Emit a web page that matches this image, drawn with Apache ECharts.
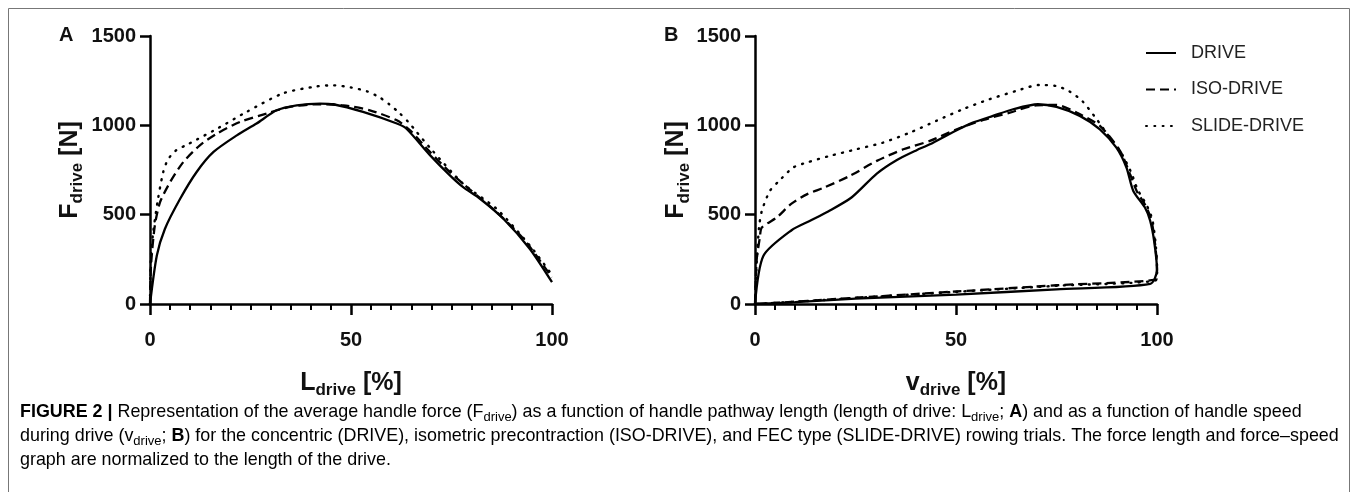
<!DOCTYPE html>
<html>
<head>
<meta charset="utf-8">
<script src="https://cdn.jsdelivr.net/npm/echarts@6/dist/echarts.min.js"></script>
<style>
html,body{margin:0;padding:0;background:#fff;}
#chart{width:1357px;height:492px;}
</style>
</head>
<body>
<div id="chart"></div>
<script>
// ---------- data ----------
const seriesNames = ['DRIVE', 'ISO-DRIVE', 'SLIDE-DRIVE'];
const yTicks = [0, 500, 1000, 1500];
const xTicks = [0, 50, 100];

// Panel A: force vs length of drive [%]
const A_drive_x = [0, 1.7, 3.7, 7.5, 11.6, 15.8, 21.6, 26.5, 31.5, 36.5, 42.3, 45.6, 53, 61.4, 63.8, 69.7, 74.6, 77.9, 82.1, 87.9, 94.5, 100];
const A_drive_y = [0, 271, 420, 589, 739, 851, 944, 1010, 1084, 1112, 1122, 1118, 1075, 1010, 981, 832, 720, 654, 589, 477, 308, 122];
const A_iso_x = [0, 0.25, 1.2, 2.5, 5, 8.3, 12.4, 16.6, 22.4, 29, 34.8, 41.5, 48.1, 54.7, 61.4, 64.7, 69.7, 74.6, 79.6, 86.2, 92.9, 99.5, 100];
const A_iso_y = [0, 215, 439, 570, 682, 795, 888, 953, 1019, 1066, 1103, 1118, 1112, 1084, 1028, 972, 850, 738, 640, 515, 365, 165, 150];
const A_slide_x = [0, 0.2, 0.8, 2, 3.3, 4.5, 6.6, 9.1, 11.6, 17, 24, 33.2, 41.5, 45.6, 50, 54, 57, 59.5, 62, 64.2, 66, 70, 77.9, 86.2, 94.5, 99.5, 100];
const A_slide_y = [0, 252, 403, 589, 739, 810, 862, 890, 920, 985, 1075, 1180, 1218, 1224, 1212, 1190, 1158, 1118, 1070, 1020, 972, 865, 673, 533, 327, 179, 165];

// Panel B: force vs handle speed [%] (closed loop: drive up, return along the bottom)
const B_drive_x = [0, 2.1, 9.1, 13.7, 18.2, 24, 30.3, 35.2, 40.2, 43.5, 49.3, 54.2, 59.2, 64.2, 70.4, 75, 80.8, 85.8, 89.9, 92.4, 94.1, 97, 98.3, 99.3, 100, 98.3, 75, 50, 25, 10, 0];
const B_drive_y = [0, 270, 413, 466, 518, 596, 730, 805, 861, 894, 963, 1015, 1053, 1090, 1118, 1103, 1053, 978, 875, 764, 633, 540, 466, 350, 190, 112, 82, 53, 30, 10, 0];
const B_iso_x = [0, 0.4, 1.2, 1.7, 5.4, 9, 13, 17, 23.6, 30.3, 36.9, 43.5, 50.2, 56.8, 63.4, 70, 75, 80, 85.8, 90.8, 93.3, 95, 97.3, 98.6, 99.5, 100, 100, 75, 50, 25, 10, 0];
const B_iso_y = [0, 242, 372, 428, 484, 560, 615, 650, 717, 801, 866, 913, 978, 1030, 1071, 1112, 1114, 1071, 997, 857, 727, 630, 545, 470, 340, 200, 143, 105, 70, 35, 13, 0];
const B_slide_x = [0, 0.4, 1, 1.7, 3.7, 6, 9.5, 12.8, 18.6, 25.2, 31.8, 38.5, 45.1, 51.7, 58.3, 64.9, 70.7, 74.9, 78.1, 81.4, 84.7, 88, 91, 93.5, 95.2, 97.5, 98.8, 99.6, 100, 100, 75, 50, 25, 10, 0];
const B_slide_y = [0, 224, 428, 521, 633, 689, 764, 791, 829, 866, 903, 959, 1025, 1090, 1146, 1192, 1226, 1220, 1192, 1136, 1043, 940, 850, 740, 640, 550, 475, 350, 210, 138, 102, 68, 34, 12, 0];

// ---------- helpers ----------
const FONT = '"Liberation Sans", Arial, Helvetica, sans-serif';
function pairs(xs, ys) { return xs.map((x, i) => [x, ys[i]]); }
const lineStyles = [
  { color: '#000', width: 2.3, type: 'solid' },
  { color: '#000', width: 2.3, type: [9, 5] },
  { color: '#000', width: 2.4, type: [1, 7.3], cap: 'round' }
];
const nameRich = {
  m: { fontSize: 25, fontWeight: 'bold', color: '#111', fontFamily: FONT, lineHeight: 32 },
  s: { fontSize: 17, fontWeight: 'bold', color: '#111', fontFamily: FONT, lineHeight: 17, verticalAlign: 'bottom' }
};

function xAxisCfg(gridIndex, sym) {
  return {
    gridIndex, type: 'value', min: 0, max: 100, interval: 50,
    name: '{m|' + sym + '}{s|drive}{m| [%]}',
    nameLocation: 'middle', nameGap: 63,
    nameTextStyle: { rich: nameRich },
    axisLine: { show: true, onZero: false, lineStyle: { color: '#000', width: 2.5 } },
    axisTick: { show: true, length: 11, lineStyle: { color: '#000', width: 2.5 } },
    minorTick: { show: true, splitNumber: 10, length: 6, lineStyle: { color: '#000', width: 2 } },
    splitLine: { show: false }, minorSplitLine: { show: false },
    axisLabel: { fontSize: 20, fontWeight: 'bold', color: '#111', margin: 26, fontFamily: FONT,
      formatter: v => (xTicks.indexOf(v) >= 0 ? String(v) : '') }
  };
}
function yAxisCfg(gridIndex, gap) {
  return {
    gridIndex, type: 'value', min: 0, max: 1500, interval: 500,
    name: '{m|F}{s|drive}{m| [N]}',
    nameLocation: 'middle', nameGap: gap, nameRotate: 90,
    nameTextStyle: { rich: nameRich },
    axisLine: { show: true, onZero: false, lineStyle: { color: '#000', width: 2.5 } },
    axisTick: { show: true, length: 10, lineStyle: { color: '#000', width: 2.5 } },
    splitLine: { show: false },
    axisLabel: { fontSize: 20, fontWeight: 'bold', color: '#111', margin: 14, fontFamily: FONT,
      formatter: v => (yTicks.indexOf(v) >= 0 ? String(v) : '') }
  };
}
function mkSeries(name, idx, data, g) {
  return {
    name, type: 'line', xAxisIndex: g, yAxisIndex: g, data,
    symbol: 'none', smooth: 0.25, lineStyle: lineStyles[idx], itemStyle: { color: '#000' },
    silent: true, animation: false, z: 3 - idx
  };
}

const capMain = { fontSize: 17.9, color: '#333', fontFamily: FONT, lineHeight: 24 };
const capRich = {
  n: capMain,
  b: Object.assign({}, capMain, { fontWeight: 'bold', color: '#222' }),
  s: { fontSize: 13, color: '#333', fontFamily: FONT, lineHeight: 13, verticalAlign: 'bottom' }
};
const captionLines = [
  '{b|FIGURE 2 |}{n| Representation of the average handle force (F}{s|drive}{n|) as a function of handle pathway length (length of drive: L}{s|drive}{n|; }{b|A}{n|) and as a function of handle speed}',
  '{n|during drive (v}{s|drive}{n|; }{b|B}{n|) for the concentric (DRIVE), isometric precontraction (ISO-DRIVE), and FEC type (SLIDE-DRIVE) rowing trials. The force length and force\u2013speed}',
  '{n|graph are normalized to the length of the drive.}'
];
const captionTops = [403, 427, 451];

const chart = echarts.init(document.getElementById('chart'), null, { renderer: 'canvas' });
chart.setOption({
  backgroundColor: '#fff',
  animation: false,
  grid: [
    { left: 150, right: 1357 - 552, top: 36, bottom: 492 - 304 },
    { left: 755, right: 1357 - 1157, top: 36, bottom: 492 - 304 }
  ],
  xAxis: [xAxisCfg(0, 'L'), xAxisCfg(1, 'v')],
  yAxis: [yAxisCfg(0, 64), yAxisCfg(1, 42)],
  legend: {
    orient: 'vertical', left: 1140, top: 39, itemWidth: 30, itemHeight: 14, itemGap: 18.5,
    selectedMode: false,
    itemStyle: { opacity: 0 },
    textStyle: { fontSize: 18, color: '#222', fontFamily: FONT, padding: [0, 0, 0, 10] },
    data: seriesNames
  },
  series: [
    mkSeries(seriesNames[0], 0, pairs(A_drive_x, A_drive_y), 0),
    mkSeries(seriesNames[1], 1, pairs(A_iso_x, A_iso_y), 0),
    mkSeries(seriesNames[2], 2, pairs(A_slide_x, A_slide_y), 0),
    mkSeries(seriesNames[0], 0, pairs(B_drive_x, B_drive_y), 1),
    mkSeries(seriesNames[1], 1, pairs(B_iso_x, B_iso_y), 1),
    mkSeries(seriesNames[2], 2, pairs(B_slide_x, B_slide_y), 1)
  ],
  graphic: [
    { type: 'rect', silent: true, shape: { x: 8.5, y: 8.5, width: 1341, height: 520 },
      style: { fill: 'none', stroke: '#777', lineWidth: 1 } },
    { type: 'text', left: 59, top: 25, silent: true,
      style: { text: 'A', fontSize: 20, fontWeight: 'bold', fill: '#111', fontFamily: FONT } },
    { type: 'text', left: 664, top: 25, silent: true,
      style: { text: 'B', fontSize: 20, fontWeight: 'bold', fill: '#111', fontFamily: FONT } }
  ].concat(captionLines.map((t, i) => ({
    type: 'text', left: 20, top: captionTops[i], silent: true,
    style: { text: t, rich: capRich, fontFamily: FONT }
  })))
});
</script>
</body>
</html>
